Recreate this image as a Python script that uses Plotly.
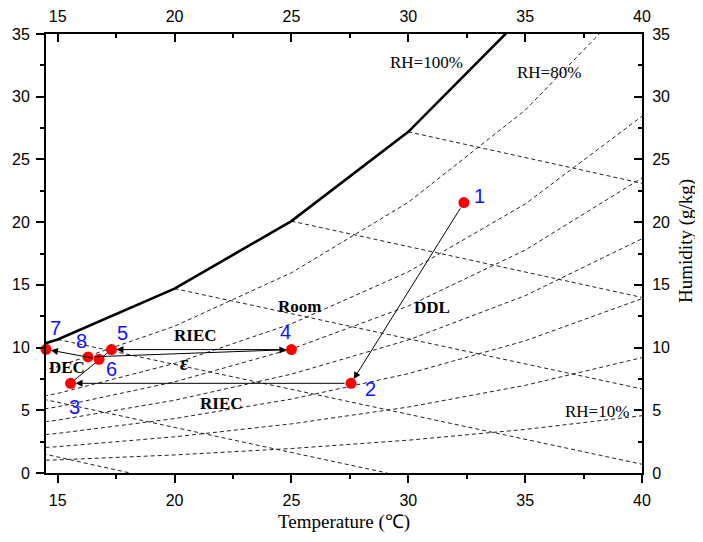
import plotly.graph_objects as go

# ---------------- data ----------------
T_grid = [10, 15, 20, 25, 30, 35, 40]
w_sat = [7.63, 10.65, 14.70, 20.08, 27.20, 36.58, 48.89]   # RH = 100 %
rh10 = [0.755, 1.048, 1.439, 1.951, 2.617, 3.474, 4.566]
rh20 = [1.511, 2.100, 2.885, 3.915, 5.257, 6.987, 9.200]
rh30 = [2.270, 3.156, 4.338, 5.891, 7.919, 10.540, 13.902]
rh40 = [3.030, 4.215, 5.797, 7.880, 10.604, 14.134, 18.676]
rh50 = [3.792, 5.278, 7.263, 9.881, 13.312, 17.768, 23.522]
rh60 = [4.556, 6.344, 8.736, 11.895, 16.042, 21.443, 28.440]
rh80 = [6.090, 8.487, 11.703, 15.962, 21.575, 28.924, 38.507]
rh_series = [rh10, rh20, rh30, rh40, rh50, rh60, rh80]

# constant-enthalpy lines (start on saturation curve, end on frame / zero humidity)
h_T_start = [5, 10, 15, 20, 25, 30]
h_w_start = [5.40, 7.63, 10.65, 14.70, 20.08, 27.20]
h_T_end = [18.1, 29.1, 40, 40, 40, 40]
h_w_end = [0.0, 0.0, 0.70, 6.70, 14.00, 23.10]

# process state points
pt_labels = ["1", "2", "3", "4", "5", "6", "7", "8"]
pt_T = [32.38, 27.55, 15.55, 25.00, 17.30, 16.77, 14.50, 16.30]
pt_w = [21.56, 7.15, 7.15, 9.84, 9.84, 9.07, 9.86, 9.25]

# arrows (from -> to), indices into point arrays
arrows = [(0, 1), (1, 2), (3, 4), (5, 6), (7, 3)]
plain_links = [(2, 4)]

x_ticks = [15, 20, 25, 30, 35, 40]
y_ticks = [0, 5, 10, 15, 20, 25, 30, 35]

# ---------------- figure ----------------
fig = go.Figure()

dash_style = dict(color="#222222", width=1, dash="4px,3px")
for s in rh_series:
    fig.add_trace(go.Scatter(x=T_grid, y=s, mode="lines", line=dash_style,
                             hoverinfo="skip", showlegend=False))
for i in range(len(h_T_start)):
    fig.add_trace(go.Scatter(x=[h_T_start[i], h_T_end[i]], y=[h_w_start[i], h_w_end[i]],
                             mode="lines", line=dash_style, hoverinfo="skip", showlegend=False))

fig.add_trace(go.Scatter(x=T_grid, y=w_sat, mode="lines",
                         line=dict(color="black", width=2.6), showlegend=False))

for a, b in plain_links:
    fig.add_trace(go.Scatter(x=[pt_T[a], pt_T[b]], y=[pt_w[a], pt_w[b]], mode="lines",
                             line=dict(color="black", width=1), showlegend=False))

fig.add_trace(go.Scatter(x=pt_T, y=pt_w, mode="markers",
                         marker=dict(color="#ff0000", size=11), cliponaxis=False,
                         showlegend=False))

# dummy trace for secondary axes
fig.add_trace(go.Scatter(x=[20], y=[10], xaxis="x2", yaxis="y2", mode="markers",
                         marker=dict(opacity=0), hoverinfo="skip", showlegend=False))

annotations = []
for a, b in arrows:
    annotations.append(dict(x=pt_T[b], y=pt_w[b], ax=pt_T[a], ay=pt_w[a],
                            xref="x", yref="y", axref="x", ayref="y",
                            showarrow=True, arrowhead=2, arrowsize=1.4, arrowwidth=1,
                            arrowcolor="black", standoff=5, startstandoff=5, text=""))

label_shift = [(16, 7), (19, -6), (4, -24), (-6, 18), (11, 17), (12, -10), (9, 21), (-7, 16)]
for i, lab in enumerate(pt_labels):
    annotations.append(dict(x=pt_T[i], y=pt_w[i], xref="x", yref="y", text=lab,
                            showarrow=False, xshift=label_shift[i][0], yshift=label_shift[i][1],
                            font=dict(family="Liberation Sans, Arial", size=20, color="#1010ff")))

serif = "Liberation Serif, Times New Roman, serif"
text_notes = [
    ("<b>Room</b>", 25.36, 13.24, 17),
    ("<b>DDL</b>", 31.01, 13.16, 17),
    ("<b>RIEC</b>", 20.91, 10.93, 17),
    ("<b>RIEC</b>", 22.02, 5.58, 17),
    ("<b>DEC</b>", 15.39, 8.45, 17),
    ("<b><i>ε</i></b>", 20.44, 8.77, 20),
    ("RH=100%", 30.80, 32.70, 17),
    ("RH=80%", 36.02, 31.90, 17),
    ("RH=10%", 38.07, 4.94, 17),
]
for txt, tx, ty, fs in text_notes:
    annotations.append(dict(x=tx, y=ty, xref="x", yref="y", text=txt, showarrow=False,
                            font=dict(family=serif, size=fs, color="black")))

annotations.append(dict(x=0.5, y=-0.1116, xref="paper", yref="paper", text="Temperature (℃)",
                        showarrow=False, yanchor="middle",
                        font=dict(family=serif, size=19, color="black")))
annotations.append(dict(x=1.075, y=0.528, xref="paper", yref="paper", text="Humidity (g/kg)",
                        showarrow=False, textangle=-90, xanchor="center", yanchor="middle",
                        font=dict(family=serif, size=19, color="black")))

tickfont = dict(family="Liberation Sans, Arial", size=16, color="black")
common = dict(showline=True, linecolor="black", linewidth=2, showgrid=False, zeroline=False,
              tickwidth=2, tickcolor="black", ticklen=8, tickfont=tickfont, automargin=False)

fig.update_layout(
    width=703, height=542,
    margin=dict(l=38, r=69, t=26, b=77, autoexpand=False),
    paper_bgcolor="white", plot_bgcolor="white",
    showlegend=False,
    xaxis=dict(range=[14.5, 40], tickvals=x_ticks, ticks="outside", ticklabelstandoff=4,
               minor=dict(tick0=15, dtick=2.5, ticks="outside", ticklen=4, tickwidth=2,
                          tickcolor="black"), **common),
    xaxis2=dict(range=[14.5, 40], tickvals=x_ticks, ticks="inside", side="top",
                overlaying="x", matches="x", anchor="y", ticklabelstandoff=4,
                minor=dict(tick0=15, dtick=2.5, ticks="inside", ticklen=4, tickwidth=2,
                           tickcolor="black"), **common),
    yaxis=dict(range=[0, 35], tickvals=y_ticks, ticks="outside", ticklabelstandoff=3,
               minor=dict(tick0=0, dtick=2.5, ticks="outside", ticklen=4, tickwidth=2,
                          tickcolor="black"), **common),
    yaxis2=dict(range=[0, 35], tickvals=y_ticks, ticks="inside", side="right",
                overlaying="y", matches="y", anchor="x", ticklabelstandoff=5,
                minor=dict(tick0=0, dtick=2.5, ticks="inside", ticklen=4, tickwidth=2,
                           tickcolor="black"), **common),
    annotations=annotations,
)

fig.write_html("out.html")
